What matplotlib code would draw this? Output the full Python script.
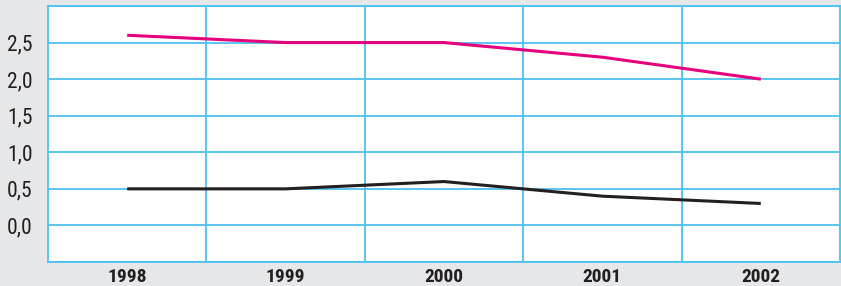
import matplotlib
matplotlib.use("Agg")
import matplotlib.pyplot as plt

years = ["1998", "1999", "2000", "2001", "2002"]
pink_series = [2.6, 2.5, 2.5, 2.3, 2.0]
black_series = [0.5, 0.5, 0.6, 0.4, 0.3]
y_ticks = [0.0, 0.5, 1.0, 1.5, 2.0, 2.5]
y_labels = ["0,0", "0,5", "1,0", "1,5", "2,0", "2,5"]

font = ["Roboto Condensed", "DejaVu Sans"]

W, H = 841, 286
fig = plt.figure(figsize=(W / 100, H / 100), dpi=100)
fig.patch.set_facecolor("#e6e7e8")
ax = fig.add_axes([48 / W, 24 / H, 792 / W, 256 / H])
ax.set_facecolor("white")

grid_c = "#4cc2ee"
x = list(range(len(years)))
ax.set_xlim(-0.5, len(years) - 0.5)
ax.set_ylim(-0.5, 3.0)

for yv in [-0.5, 0.0, 0.5, 1.0, 1.5, 2.0, 2.5, 3.0]:
    ax.axhline(yv, color=grid_c, lw=1.3, zorder=1)
for xv in [i + 0.5 for i in range(len(years) - 1)]:
    ax.axvline(xv, color=grid_c, lw=1.3, zorder=1)

ax.plot(x, pink_series, color="#e5007d", lw=2.2, zorder=3, solid_capstyle="butt")
ax.plot(x, black_series, color="#231f20", lw=2.2, zorder=3, solid_capstyle="butt")

for s in ax.spines.values():
    s.set_color(grid_c)
    s.set_linewidth(1.3)

ax.set_xticks(x)
ax.set_xticklabels(years, fontfamily=font, fontweight="bold", fontsize=14, color="#231f20")
ax.set_yticks(y_ticks)
ax.set_yticklabels(y_labels, fontfamily=font, fontsize=15.5, color="#231f20")
ax.tick_params(axis="both", length=0)
ax.tick_params(axis="y", pad=11)
ax.tick_params(axis="x", pad=4.5)

fig.savefig("out.png", dpi=100, facecolor=fig.get_facecolor())
